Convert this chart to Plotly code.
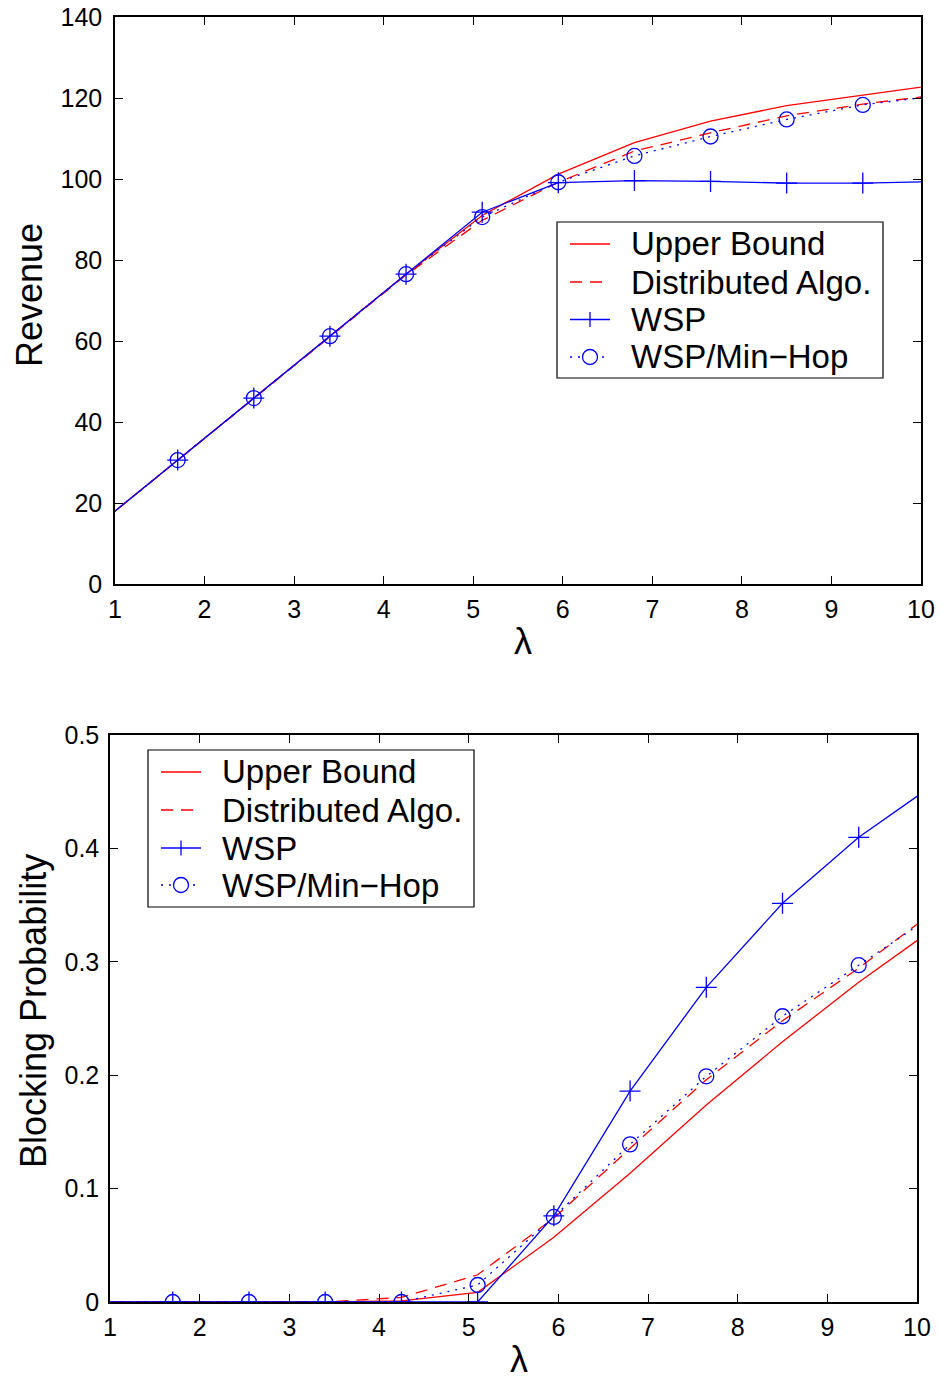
import plotly.graph_objects as go

# ---- data ----
lam = [0.85, 1.7, 2.55, 3.4, 4.25, 5.1, 5.95, 6.8, 7.65, 8.5, 9.35, 10.2]

rev_upper = [15.3, 30.6, 45.9, 61.2, 76.5, 91.0, 101.2, 109.0, 114.3, 118.1, 120.7, 123.3]
rev_dist = [15.3, 30.6, 45.9, 61.2, 76.3, 89.8, 99.2, 106.9, 111.4, 115.6, 118.5, 120.8]
rev_wsp = [15.3, 30.6, 45.9, 61.2, 76.5, 91.8, 99.1, 99.6, 99.4, 99.0, 99.0, 99.4]
rev_minhop = [15.3, 30.6, 45.9, 61.2, 76.5, 90.6, 99.2, 105.7, 110.5, 114.7, 118.3, 120.6]

bp_upper = [0.0, 0.0, 0.0, 0.0, 0.001, 0.0085, 0.057, 0.1135, 0.1737, 0.2295, 0.282, 0.330]
bp_dist = [0.0, 0.0, 0.0, 0.0, 0.004, 0.024, 0.074, 0.1355, 0.196, 0.248, 0.2945, 0.345]
bp_wsp = [0.0, 0.0, 0.0, 0.0, 0.0, 0.0, 0.076, 0.186, 0.2775, 0.3516, 0.4098, 0.457]
bp_minhop = [0.0, 0.0, 0.0, 0.0, 0.0, 0.015, 0.075, 0.139, 0.199, 0.252, 0.297, 0.342]

x_ticks = [1, 2, 3, 4, 5, 6, 7, 8, 9, 10]
rev_ticks = [0, 20, 40, 60, 80, 100, 120, 140]
bp_ticks = [0, 0.1, 0.2, 0.3, 0.4, 0.5]
bp_ticklabels = ["0", "0.1", "0.2", "0.3", "0.4", "0.5"]

names = ["Upper Bound", "Distributed Algo.", "WSP", "WSP/Min\u2212Hop"]

RED = "#ff0000"
BLUE = "#0000ff"
FONT = "Liberation Sans, Arial, Helvetica, sans-serif"
LW = 1.3
DASH = "12px,8px"
DOT = "2px,6px"
MSIZE = 15

styles = [
    dict(mode="lines", line=dict(color=RED, width=LW)),
    dict(mode="lines", line=dict(color=RED, width=LW, dash=DASH)),
    dict(mode="lines+markers", line=dict(color=BLUE, width=LW),
         marker=dict(symbol="cross-thin-open", size=MSIZE, color=BLUE, line=dict(color=BLUE, width=1.3))),
    dict(mode="lines+markers", line=dict(color=BLUE, width=LW, dash=DOT),
         marker=dict(symbol="circle-open", size=MSIZE, color=BLUE, line=dict(color=BLUE, width=1.3))),
]

fig = go.Figure()

for name, ys, st in zip(names, [rev_upper, rev_dist, rev_wsp, rev_minhop], styles):
    fig.add_trace(go.Scatter(x=lam, y=ys, name=name, xaxis="x", yaxis="y",
                             showlegend=False, **st))
for name, ys, st in zip(names, [bp_upper, bp_dist, bp_wsp, bp_minhop], styles):
    fig.add_trace(go.Scatter(x=lam, y=ys, name=name, xaxis="x2", yaxis="y2",
                             showlegend=False, **st))

W, H = 941, 1380


def px(x):
    return x / W


def py(y):
    return 1 - y / H


axis_common = dict(
    showline=True, linecolor="black", linewidth=1.5, mirror="ticks",
    ticks="inside", ticklen=8, tickwidth=1, tickcolor="black",
    showgrid=False, zeroline=False, automargin=False,
    tickfont=dict(family=FONT, size=25, color="black"),
)

shapes = []
annotations = []


def add_legend(box, rows, line_x, text_x):
    x0, y0, x1, y1 = box
    shapes.append(dict(type="rect", xref="paper", yref="paper",
                       x0=px(x0), x1=px(x1), y0=py(y0), y1=py(y1),
                       line=dict(color="black", width=1.2), fillcolor="white", layer="above"))
    kinds = ["solid", "dash", "plus", "circle"]
    for name, ry, kind in zip(names, rows, kinds):
        color = RED if kind in ("solid", "dash") else BLUE
        dash = {"solid": "solid", "dash": DASH, "plus": "solid", "circle": DOT}[kind]
        shapes.append(dict(type="line", xref="paper", yref="paper",
                           x0=px(line_x[0]), x1=px(line_x[1]), y0=py(ry), y1=py(ry),
                           line=dict(color=color, width=LW, dash=dash), layer="above"))
        cx = (line_x[0] + line_x[1]) / 2
        if kind == "plus":
            r = MSIZE / 2
            shapes.append(dict(type="line", xref="paper", yref="paper",
                               x0=px(cx), x1=px(cx), y0=py(ry - r), y1=py(ry + r),
                               line=dict(color=BLUE, width=1.3), layer="above"))
        if kind == "circle":
            r = MSIZE / 2
            shapes.append(dict(type="circle", xref="paper", yref="paper",
                               x0=px(cx - r), x1=px(cx + r), y0=py(ry - r), y1=py(ry + r),
                               line=dict(color=BLUE, width=1.3), fillcolor="white", layer="above"))
        annotations.append(dict(xref="paper", yref="paper", x=px(text_x), y=py(ry),
                                text=name, showarrow=False, xanchor="left", yanchor="middle",
                                font=dict(family=FONT, size=33, color="black")))


add_legend((557, 222, 883, 378), [244, 282, 319.5, 357], (570, 610), 629)
add_legend((148, 750, 474, 907), [772, 810, 848, 885], (161, 201), 220)

# axis titles
annotations += [
    dict(xref="paper", yref="paper", x=px(29), y=py(295), text="Revenue", textangle=-90,
         showarrow=False, xanchor="center", yanchor="middle",
         font=dict(family=FONT, size=36, color="black")),
    dict(xref="paper", yref="paper", x=px(33), y=py(1011), text="Blocking Probability", textangle=-90,
         showarrow=False, xanchor="center", yanchor="middle",
         font=dict(family=FONT, size=36, color="black")),
    dict(xref="paper", yref="paper", x=px(523), y=py(641), text="\u03bb",
         showarrow=False, xanchor="center", yanchor="middle",
         font=dict(family=FONT, size=36, color="black")),
    dict(xref="paper", yref="paper", x=px(519), y=py(1359), text="\u03bb",
         showarrow=False, xanchor="center", yanchor="middle",
         font=dict(family=FONT, size=36, color="black")),
]

fig.update_layout(
    width=W, height=H,
    margin=dict(l=0, r=0, t=0, b=0),
    paper_bgcolor="white", plot_bgcolor="white",
    font=dict(family=FONT, color="black"),
    xaxis=dict(domain=[px(115), px(921)], range=[1, 10], tickvals=x_ticks, anchor="y",
               ticklabelstandoff=2, **axis_common),
    yaxis=dict(domain=[py(584), py(17)], range=[0, 140], tickvals=rev_ticks, anchor="x",
               ticklabelstandoff=6, **axis_common),
    xaxis2=dict(domain=[px(110), px(917)], range=[1, 10], tickvals=x_ticks, anchor="y2",
                ticklabelstandoff=2, **axis_common),
    yaxis2=dict(domain=[py(1302), py(735)], range=[0, 0.5], tickvals=bp_ticks,
                ticktext=bp_ticklabels, anchor="x2", ticklabelstandoff=4, **axis_common),
    shapes=shapes,
    annotations=annotations,
    showlegend=False,
)

fig.write_html("out.html")
